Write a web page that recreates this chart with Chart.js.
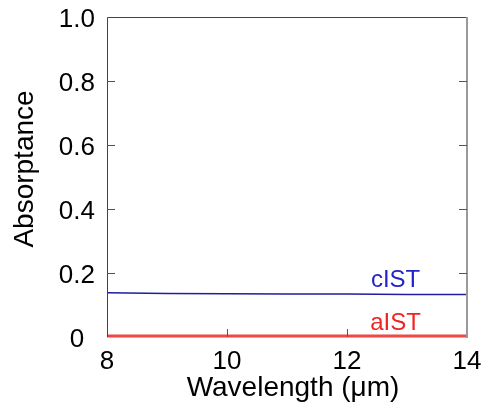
<!DOCTYPE html>
<html>
<head>
<meta charset="utf-8">
<script src="https://cdn.jsdelivr.net/npm/chart.js@4.4.1/dist/chart.umd.min.js"></script>
<style>
    html, body { margin: 0; padding: 0; background: #fff; }
    #wrap { width: 488px; height: 410px; position: relative; }
</style>
</head>
<body>
<div id="wrap"><canvas id="chart" width="488" height="410"></canvas></div>
<script>
// wavelength in µm
const wavelengths = [8, 9, 10, 11, 12, 13, 14];
const cistValues = [0.138, 0.136, 0.135, 0.134, 0.134, 0.133, 0.133];
const aistValues = [0.003, 0.003, 0.003, 0.003, 0.003, 0.003, 0.003];
const xTicks = [8, 10, 12, 14];
const yTicks = [0, 0.2, 0.4, 0.6, 0.8, 1.0];
const seriesLabels = [
    { text: 'cIST', x: 12.81, y: 0.157, color: 'rgb(35,35,200)' },
    { text: 'aIST', x: 12.81, y: 0.023, color: 'rgb(240,35,35)' },
];
const xTitle = 'Wavelength (μm)';
const yTitle = 'Absorptance';

const fontFamily = '"Liberation Sans", Arial, sans-serif';

const toPoints = (values) => values.map((v, i) => ({ x: wavelengths[i], y: v }));

const noScalePadding = (scale) => {
    scale.paddingLeft = 0;
    scale.paddingRight = 0;
    scale.paddingTop = 0;
    scale.paddingBottom = 0;
};

// frame, inward ticks, axis titles and series labels
const framePlugin = {
    id: 'frame',
    afterDatasetsDraw(chart) {
        const { ctx, chartArea: area, scales } = chart;
        const xs = scales.x;
        const ys = scales.y;
        ctx.save();
        ctx.lineCap = 'butt';

        ctx.strokeStyle = '#444';
        ctx.lineWidth = 1;
        ctx.beginPath();
        ctx.moveTo(area.left + 0.5, area.bottom);
        ctx.lineTo(area.left + 0.5, area.top + 0.5);
        ctx.lineTo(area.right, area.top + 0.5);
        ctx.stroke();

        ctx.strokeStyle = '#9a9a9a';
        ctx.lineWidth = 2;
        ctx.beginPath();
        ctx.moveTo(area.right, area.top);
        ctx.lineTo(area.right, area.bottom + 1);
        ctx.stroke();

        ctx.strokeStyle = '#555';
        ctx.lineWidth = 1;
        const tickLen = 8;
        yTicks.forEach((v) => {
            if (v <= 0 || v >= 1) return;
            const py = Math.round(ys.getPixelForValue(v)) + 0.5;
            ctx.beginPath();
            ctx.moveTo(area.left, py);
            ctx.lineTo(area.left + tickLen, py);
            ctx.moveTo(area.right, py);
            ctx.lineTo(area.right - tickLen, py);
            ctx.stroke();
        });
        xTicks.forEach((v) => {
            if (v <= xTicks[0] || v >= xTicks[xTicks.length - 1]) return;
            const px = Math.round(xs.getPixelForValue(v)) + 0.5;
            ctx.beginPath();
            ctx.moveTo(px, area.bottom);
            ctx.lineTo(px, area.bottom - tickLen);
            ctx.stroke();
        });

        ctx.font = `24px ${fontFamily}`;
        ctx.textAlign = 'center';
        ctx.textBaseline = 'alphabetic';
        seriesLabels.forEach((label) => {
            ctx.fillStyle = label.color;
            ctx.fillText(label.text, xs.getPixelForValue(label.x), ys.getPixelForValue(label.y));
        });

        ctx.fillStyle = '#000';
        ctx.font = `28px ${fontFamily}`;
        ctx.fillText(xTitle, (area.left + area.right) / 2 + 6, 396);
        ctx.translate(33, (area.top + area.bottom) / 2 - 8);
        ctx.rotate(-Math.PI / 2);
        ctx.fillText(yTitle, 0, 0);
        ctx.restore();
    },
};

new Chart(document.getElementById('chart'), {
    type: 'scatter',
    data: {
        datasets: [
            {
                label: 'cIST',
                data: toPoints(cistValues),
                showLine: true,
                borderColor: 'rgb(30,30,160)',
                borderWidth: 1.5,
                pointRadius: 0,
                tension: 0,
            },
            {
                label: 'aIST',
                data: toPoints(aistValues),
                showLine: true,
                borderColor: 'rgb(240,70,70)',
                borderWidth: 3,
                pointRadius: 0,
                tension: 0,
                clip: false,
            },
        ],
    },
    options: {
        responsive: false,
        animation: false,
        devicePixelRatio: 1,
        layout: { padding: { top: 17, right: 21, left: 0, bottom: 0 } },
        plugins: {
            legend: { display: false },
            tooltip: { enabled: false },
        },
        scales: {
            x: {
                type: 'linear',
                min: 8,
                max: 14,
                afterBuildTicks(scale) {
                    scale.ticks = xTicks.map((v) => ({ value: v }));
                },
                afterFit(scale) {
                    scale.height = 73;
                    noScalePadding(scale);
                },
                border: { display: false },
                grid: { display: false, drawTicks: false },
                ticks: {
                    color: '#000',
                    padding: 9,
                    maxRotation: 0,
                    font: { family: fontFamily, size: 26 },
                },
            },
            y: {
                type: 'linear',
                min: 0,
                max: 1,
                afterBuildTicks(scale) {
                    scale.ticks = yTicks.map((v) => ({ value: v }));
                },
                afterFit(scale) {
                    scale.width = 107;
                    noScalePadding(scale);
                },
                border: { display: false },
                grid: { display: false, drawTicks: false },
                ticks: {
                    color: '#000',
                    padding: 12,
                    labelOffset: 3,
                    crossAlign: 'center',
                    font: { family: fontFamily, size: 26 },
                    callback(value) {
                        return value === 0 ? '0' : Number(value).toFixed(1);
                    },
                },
            },
        },
    },
    plugins: [framePlugin],
});
</script>
</body>
</html>
